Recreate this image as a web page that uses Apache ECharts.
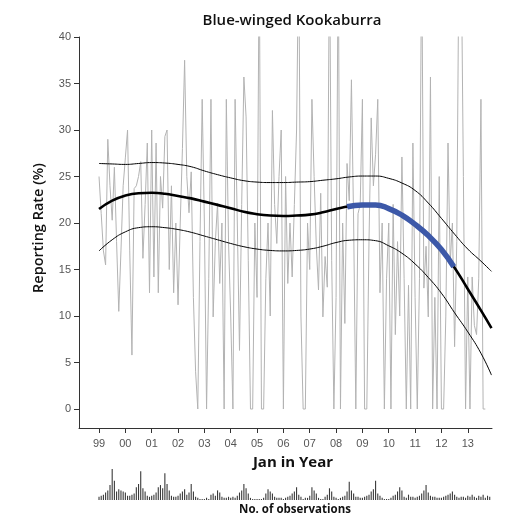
<!DOCTYPE html>
<html><head><meta charset="utf-8">
<script src="https://cdn.jsdelivr.net/npm/echarts@6/dist/echarts.min.js"></script>
<style>html,body{margin:0;padding:0;background:#fff}#c{width:515px;height:517px}</style>
</head><body><div id="c"></div>
<script>
// ---- data ----
const startYear = 1999;
// monthly reporting rate (%), Jan 1999 .. Nov 2013
const reportingRate = [
 25,21,17,15.5,29,24,20.3,26,18,10.5,17,24,
 27,30,17,5.8,23.7,24,25,26.6,16.2,22,28.6,12.5,
 30,14.2,28.6,12.5,25,21.6,29.3,30,15,24,12.5,20,
 11.2,20,28,37.5,25,21.1,25.5,12,4,0,18,33.3,
 20,0,14,33.3,9.9,18,22.1,13.5,20,0,33.3,18,
 10,0,33.3,20,6.3,22,35.7,31.4,16,0,0,20,
 12,50,0,0,14,20,10,32.1,22,17.8,25,30,
 0,25,13.5,20,14.2,22,30,50,10,0,0,20,
 15,33.3,25,17.5,12.8,23.2,9.9,16.4,13.1,50,16,0,
 12,50,0,20,9.2,26.4,22.4,35.4,20,0,21,22,
 33.3,0,0,18,31.3,24,27.4,33.3,12.5,20,0,14,
 20,0,22,8,18,10,27.1,14,0,13.3,0,28.6,
 12,0,14,50,13,17.5,9.9,35.7,0,12,0,25,
 0,0,10,28.6,15.7,20,6.7,18,50,50,25,0,
 14.2,0,14.2,9,8,14,33.3,0,0
];
// monthly number of observations
const observations = [
 3,4,5,7,9,14,29,18,8,10,9,8,
 7,4,4,5,6,12,15,27,11,8,4,3,
 4,5,7,12,14,11,25,15,9,4,3,3,
 4,6,8,10,5,7,15,8,3,2,1,1,
 1,2,1,5,6,4,9,7,3,2,2,3,
 2,3,2,4,7,9,15,11,6,2,1,1,
 1,1,1,2,6,10,8,6,3,2,2,2,
 1,2,3,4,6,8,12,5,3,1,2,2,
 4,12,9,6,2,1,1,3,5,11,8,3,
 2,1,2,3,4,8,17,9,6,3,3,2,
 2,3,4,5,8,10,18,6,4,2,1,1,
 1,2,4,5,8,12,9,3,2,5,3,3,
 2,3,4,6,9,14,7,4,3,3,2,2,
 2,3,4,5,6,8,5,3,2,3,3,2,
 4,3,5,3,2,4,3,5,2,4,3
];
// smoothed trend and confidence band
const fitYears = [1999.0,1999.5,2000.0,2000.5,2001.0,2001.5,2002.0,2002.5,2003.0,2003.5,2004.0,2004.5,2005.0,2005.5,2006.0,2006.5,2007.0,2007.5,2008.0,2008.5,2009.0,2009.5,2010.0,2010.5,2011.0,2011.5,2012.0,2012.5,2013.0,2013.5,2013.9];
const fitMean  = [21.5,22.4,22.95,23.2,23.25,23.15,22.9,22.65,22.3,21.95,21.6,21.2,20.95,20.8,20.75,20.8,20.9,21.15,21.5,21.8,21.95,21.95,21.55,20.85,19.85,18.65,17.15,15.2,12.9,10.6,8.7];
const fitUpper = [26.4,26.35,26.3,26.4,26.5,26.45,26.3,26.05,25.6,25.2,24.85,24.55,24.4,24.35,24.35,24.4,24.45,24.6,24.75,24.95,25.05,25.05,24.8,24.3,23.5,22.15,20.5,18.8,17.2,15.9,14.8];
const fitLower = [17.0,18.2,19.05,19.5,19.6,19.5,19.3,19.0,18.6,18.2,17.8,17.45,17.2,17.05,17.0,17.05,17.2,17.5,17.9,18.15,18.2,18.1,17.55,16.75,15.6,14.15,12.45,10.35,8.3,6.0,3.65];
// highlighted (significant change) part of trend
const highlightYears = [2008.42,2009.0,2009.5,2010.0,2010.5,2011.0,2011.5,2012.0,2012.47];
const highlightMean  = [21.75,21.95,21.95,21.55,20.85,19.85,18.65,17.15,15.3];
// ticks
const xTicks = [1999,2000,2001,2002,2003,2004,2005,2006,2007,2008,2009,2010,2011,2012,2013];
const xTickLabels = ['99','00','01','02','03','04','05','06','07','08','09','10','11','12','13'];
const yTicks = [0,5,10,15,20,25,30,35,40];

// ---- build ----
const monthX = i => startYear + i / 12;
const rateData = reportingRate.map((v, i) => [monthX(i), v]);
const obsData = observations.map((v, i) => [monthX(i), v]);
const zip = (xs, ys) => xs.map((x, i) => [x, ys[i]]);

const XMIN = 1998.24, XMAX = 2013.92;
const labelFont = 'Liberation Sans';
const chart = echarts.init(document.getElementById('c'), null, {renderer: 'canvas'});
chart.setOption({
  animation: false,
  grid: [
    {left: 79, right: 23, top: 37, bottom: 89},
    {left: 79, right: 23, top: 468, height: 32}
  ],
  xAxis: [
    {type: 'value', gridIndex: 0, min: XMIN, max: XMAX,
     axisLine: {show: true, onZero: false, lineStyle: {color: '#333', width: 1}},
     axisTick: {show: true, length: 5, customValues: xTicks, lineStyle: {color: '#333'}},
     axisLabel: {customValues: xTicks, margin: 10, fontSize: 11, color: '#555', fontFamily: labelFont,
       formatter: v => xTickLabels[xTicks.indexOf(Math.round(v))] || ''},
     splitLine: {show: false}},
    {type: 'value', gridIndex: 1, min: XMIN, max: XMAX, show: false}
  ],
  yAxis: [
    {type: 'value', gridIndex: 0, min: -2.04, max: 40,
     axisLine: {show: true, onZero: false, lineStyle: {color: '#333', width: 1}},
     axisTick: {show: true, length: 5, customValues: yTicks, lineStyle: {color: '#333'}},
     axisLabel: {customValues: yTicks, margin: 8, fontSize: 11, color: '#555', fontFamily: labelFont},
     splitLine: {show: false}},
    {type: 'value', gridIndex: 1, min: 0, max: 30, show: false}
  ],
  series: [
    {type: 'line', xAxisIndex: 0, yAxisIndex: 0, data: rateData, showSymbol: false,
     lineStyle: {color: '#b3b3b3', width: 1}, clip: true, z: 1},
    {type: 'line', data: zip(fitYears, fitUpper), showSymbol: false, smooth: true,
     lineStyle: {color: '#000', width: 1}, z: 3},
    {type: 'line', data: zip(fitYears, fitLower), showSymbol: false, smooth: true,
     lineStyle: {color: '#000', width: 1}, z: 3},
    {type: 'line', data: zip(fitYears, fitMean), showSymbol: false, smooth: true,
     lineStyle: {color: '#000', width: 2.6}, z: 4},
    {type: 'line', data: zip(highlightYears, highlightMean), showSymbol: false, smooth: true,
     lineStyle: {color: '#3c58a8', width: 5.5, cap: 'butt'}, z: 5},
    {type: 'bar', xAxisIndex: 1, yAxisIndex: 1, data: obsData, barWidth: 1.1,
     itemStyle: {color: '#3a3a3a'}}
  ],
  graphic: [
    {type: 'text', x: 292, y: 21, style: {text: 'Blue-winged Kookaburra', font: '600 15px "Open Sans"', fill: '#111', textAlign: 'center', textVerticalAlign: 'middle'}},
    {type: 'text', x: 39, y: 228, rotation: Math.PI / 2, style: {text: 'Reporting Rate (%)', font: '600 14.5px "Open Sans"', fill: '#111', textAlign: 'center', textVerticalAlign: 'middle'}},
    {type: 'text', x: 293, y: 463, style: {text: 'Jan in Year', font: 'bold 15px "Open Sans"', fill: '#111', textAlign: 'center', textVerticalAlign: 'middle'}},
    {type: 'text', x: 295, y: 510, style: {text: 'No. of observations', font: 'bold 11.5px "Open Sans"', fill: '#111', textAlign: 'center', textVerticalAlign: 'middle'}}
  ]
});
</script></body></html>
